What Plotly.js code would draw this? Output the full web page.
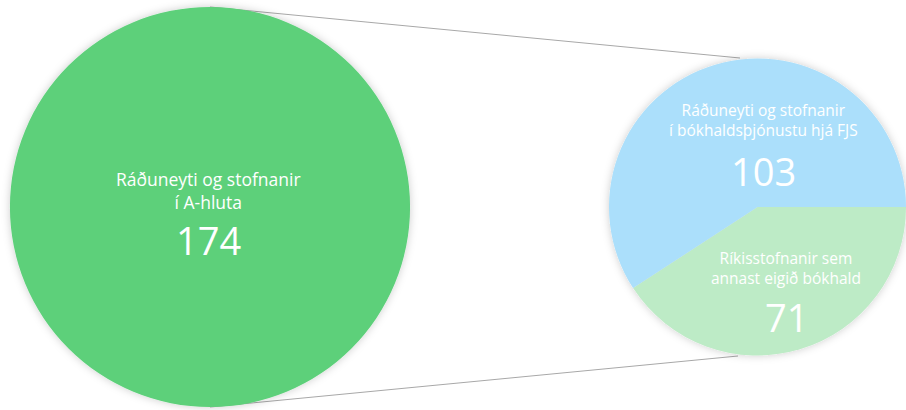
<!DOCTYPE html>
<html>
<head>
<meta charset="utf-8">
<script src="https://cdn.plot.ly/plotly-3.0.1.min.js"></script>
<style>
html,body{margin:0;padding:0;background:#fff;}
#chart{width:906px;height:410px;}
</style>
</head>
<body>
<div id="chart"></div>
<script>
// ---- data ----
const totalLabels = ['Ráðuneyti og stofnanir<br>í A-hluta'];
const totalValues = [174];
const splitLabels = ['Ríkisstofnanir sem<br>annast eigið bókhald', 'Ráðuneyti og stofnanir<br>í bókhaldsþjónustu hjá FJS'];
const splitValues = [71, 103];

// ---- styles / geometry ----
const W = 906, H = 410;
const bigC = {x: 210, y: 207, r: 200};
const smallC = {x: 758, y: 207, r: 149};
const greenMain = '#5DD07A';
const splitColors = ['#BDEBC6', '#ABDFFB'];
const fontFam = '"Open Sans", Lato, sans-serif';

function dom(c){
  return {
    x: [Math.max(0,(c.x - c.r)/W), Math.min(1,(c.x + c.r)/W)],
    y: [(H - c.y - c.r)/H, (H - c.y + c.r)/H]
  };
}
const px = x => x / W, py = y => 1 - y / H;

const traces = [
  {type: 'pie', labels: totalLabels, values: totalValues, sort: false,
   marker: {colors: [greenMain], line: {width: 0}}, textinfo: 'none',
   hoverinfo: 'skip', domain: dom(bigC), showlegend: false},
  {type: 'pie', labels: splitLabels, values: splitValues, sort: false,
   direction: 'clockwise', rotation: 90,
   marker: {colors: splitColors, line: {width: 0}}, textinfo: 'none',
   hoverinfo: 'skip', domain: dom(smallC), showlegend: false}
];

// label anchor points (pixel positions within the figure)
const labelPos = [
  {x: 208, y: 190, n: 240, size: 17.5, total: true, idx: 0},
  {x: 786, y: 268, n: 317, size: 15.5, total: false, idx: 0},
  {x: 763, y: 120, n: 171, size: 15.5, total: false, idx: 1}
];
const annotations = [];
labelPos.forEach(p => {
  const lab = p.total ? totalLabels[p.idx] : splitLabels[p.idx];
  const val = p.total ? totalValues[p.idx] : splitValues[p.idx];
  annotations.push({xref:'paper', yref:'paper', x: px(p.x), y: py(p.y), text: lab,
    showarrow:false, xanchor:'center', yanchor:'middle',
    font:{family: fontFam, size: p.size, color:'#ffffff'}});
  annotations.push({xref:'paper', yref:'paper', x: px(p.x), y: py(p.n), text: String(val),
    showarrow:false, xanchor:'center', yanchor:'middle',
    font:{family: fontFam, size: 38, color:'#ffffff'}});
});

const shapes = [
  {type:'line', xref:'paper', yref:'paper', x0: px(bigC.x), y0: py(bigC.y - bigC.r),
   x1: px(smallC.x - 18), y1: py(smallC.y - smallC.r), line:{color:'#a8a8a8', width:1}, layer:'below'},
  {type:'line', xref:'paper', yref:'paper', x0: px(bigC.x), y0: py(bigC.y + bigC.r),
   x1: px(smallC.x - 20), y1: py(smallC.y + smallC.r), line:{color:'#a8a8a8', width:1}, layer:'below'}
];

const layout = {
  width: W, height: H, margin:{l:0,r:0,t:0,b:0},
  paper_bgcolor:'#ffffff', plot_bgcolor:'#ffffff',
  showlegend:false, annotations, shapes,
  font:{family: fontFam}
};
Plotly.newPlot('chart', traces, layout, {displayModeBar:false, staticPlot:true}).then(gd => {
  const svg = gd.querySelector('svg.main-svg');
  const ns = 'http://www.w3.org/2000/svg';
  let defs = svg.querySelector('defs');
  if (!defs) { defs = document.createElementNS(ns, 'defs'); svg.insertBefore(defs, svg.firstChild); }
  const f = document.createElementNS(ns, 'filter');
  f.setAttribute('id', 'pieShadow');
  f.setAttribute('x', '-10%'); f.setAttribute('y', '-10%');
  f.setAttribute('width', '120%'); f.setAttribute('height', '120%');
  const ds = document.createElementNS(ns, 'feDropShadow');
  ds.setAttribute('dx', '0'); ds.setAttribute('dy', '0');
  ds.setAttribute('stdDeviation', '4');
  ds.setAttribute('flood-color', '#000'); ds.setAttribute('flood-opacity', '0.2');
  f.appendChild(ds); defs.appendChild(f);
  gd.querySelectorAll('.pielayer .trace').forEach(t => t.setAttribute('filter', 'url(#pieShadow)'));
});
</script>
</body>
</html>
